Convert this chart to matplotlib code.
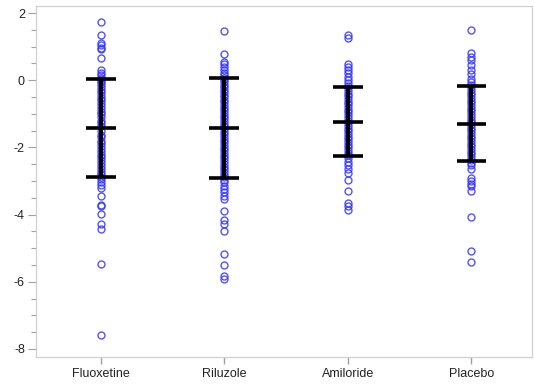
import matplotlib
matplotlib.use('Agg')
import matplotlib.pyplot as plt
from matplotlib.ticker import MultipleLocator

plt.rcParams['font.family'] = ['Liberation Sans', 'DejaVu Sans']
plt.rcParams['axes.unicode_minus'] = False

groups = ['Fluoxetine', 'Riluzole', 'Amiloride', 'Placebo']

fluoxetine = [1.74, 1.34, 1.12, 1.04, 0.97, 0.92, 0.65, 0.30, 0.23, 0.16,
              0.08, 0.02, -0.05, -0.12, -0.20, -0.28, -0.35, -0.44, -0.52, -0.60,
              -0.68, -0.77, -0.85, -0.94, -1.02, -1.10, -1.20, -1.28, -1.36, -1.50,
              -1.62, -1.70, -1.80, -1.88, -1.97, -2.05, -2.14, -2.22, -2.30, -2.38,
              -2.47, -2.55, -2.64, -2.72, -2.80, -2.88, -2.95,
              -3.03, -3.12, -3.21, -3.44, -3.72, -3.74, -3.99, -4.29, -4.43, -5.48, -7.58]
riluzole = [1.48, 0.77, 0.54, 0.47, 0.38, 0.30, 0.23, 0.15,
            0.08, 0.01, -0.06, -0.13, -0.21, -0.29, -0.36, -0.44, -0.51, -0.59,
            -0.66, -0.74, -0.82, -0.90, -0.97, -1.05, -1.13, -1.21, -1.29, -1.37,
            -1.45, -1.53, -1.61, -1.69, -1.77, -1.85, -1.93, -2.01, -2.09, -2.17,
            -2.25, -2.33, -2.41, -2.49, -2.57, -2.65, -2.73, -2.81, -2.89, -2.96,
            -3.04, -3.15, -3.24, -3.33, -3.45, -3.54, -3.89, -4.17, -4.29, -4.48,
            -5.18, -5.50, -5.82, -5.92]
amiloride = [1.36, 1.26, 0.48, 0.40, 0.31, 0.21, 0.11, 0.01,
             -0.08, -0.16, -0.24, -0.32, -0.40, -0.48, -0.56, -0.64, -0.72, -0.80,
             -0.88, -0.96, -1.04, -1.12, -1.20, -1.28, -1.36, -1.44, -1.52, -1.60,
             -1.68, -1.76, -1.84, -1.92, -2.00, -2.08, -2.16, -2.24, -2.32,
             -2.43, -2.53, -2.63, -2.75, -2.98, -3.31, -3.64, -3.74, -3.86]
placebo = [1.51, 0.80, 0.70, 0.60, 0.46, 0.31, 0.18, 0.03,
           -0.05, -0.13, -0.21, -0.29, -0.37, -0.45, -0.53, -0.61, -0.69, -0.77,
           -0.85, -0.93, -1.01, -1.09, -1.17, -1.25, -1.33, -1.41, -1.49, -1.57,
           -1.65, -1.73, -1.81, -1.89, -1.97, -2.05, -2.13, -2.21, -2.29, -2.37,
           -2.45, -2.53, -2.65, -2.90, -3.00, -3.10, -3.16, -3.29, -4.06, -5.08, -5.41]

means = [-1.42, -1.42, -1.24, -1.29]
sds = [1.46, 1.50, 1.03, 1.12]

fig = plt.figure(figsize=(5.34, 3.85), dpi=100)
ax = fig.add_axes([0.0674, 0.0727, 0.9289, 0.9117])

for i, vals in enumerate([fluoxetine, riluzole, amiloride, placebo]):
    ax.plot([i] * len(vals), vals, 'o', ms=5, mfc='none', mec='#3535ff',
            mew=1.0, alpha=0.85, zorder=2)

# mean +/- sd bars
half = 0.12
for i, (m, s) in enumerate(zip(means, sds)):
    ax.vlines(i, m - s, m + s, color='black', lw=2.8, zorder=3)
    ax.hlines([m - s, m, m + s], i - half, i + half, color='black', lw=2.6, zorder=3)

ax.set_xlim(-0.524, 3.49)
ax.set_ylim(-8.24, 2.21)
ax.set_xticks(range(len(groups)))
ax.set_xticklabels(groups)
ax.yaxis.set_major_locator(MultipleLocator(2))
ax.yaxis.set_minor_locator(MultipleLocator(0.5))

for sp in ax.spines.values():
    sp.set_color('#d0d0d0')
    sp.set_linewidth(0.9)

ax.tick_params(axis='y', which='major', length=6, width=0.8, color='#a0a0a0',
               labelsize=9, labelcolor='#222222', pad=2)
ax.tick_params(axis='y', which='minor', length=3.5, width=0.8, color='#a0a0a0')
ax.tick_params(axis='x', length=5, width=1.0, color='#a0a0a0',
               labelsize=9, labelcolor='#222222', pad=3)

fig.savefig('out.png', dpi=100)
